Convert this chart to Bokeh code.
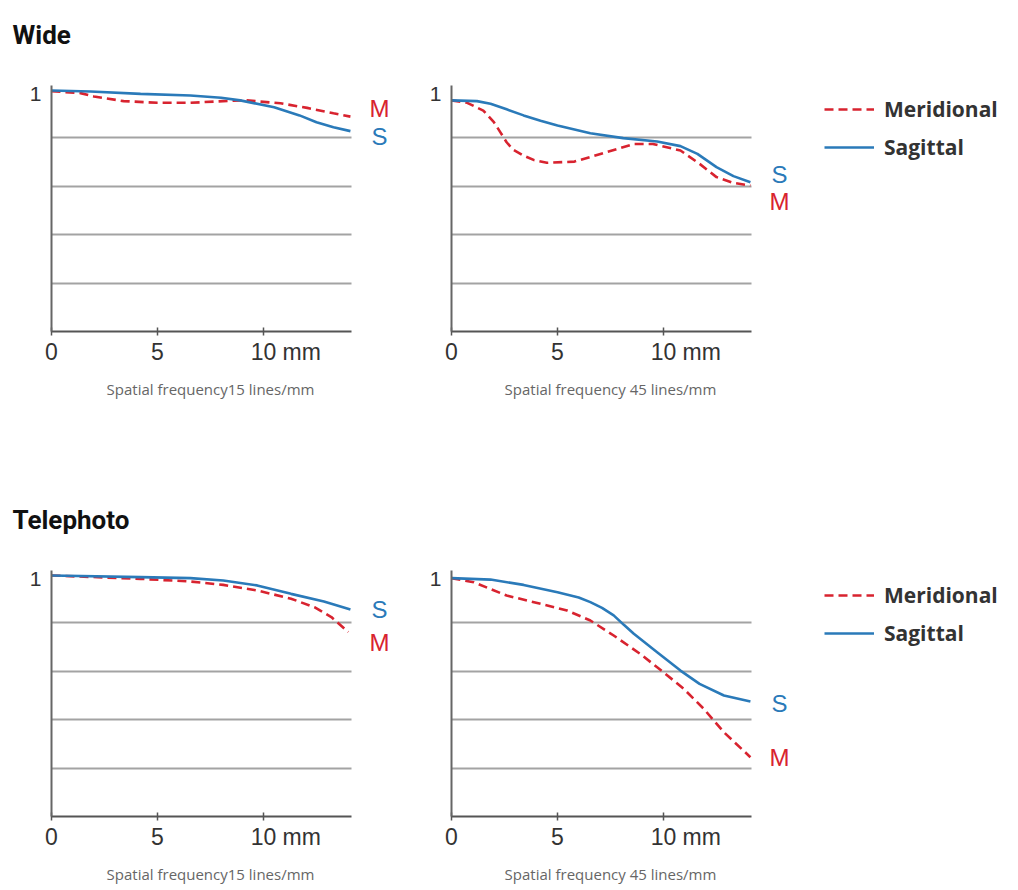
from bokeh.plotting import figure
from bokeh.models import Range1d, LinearAxis, FixedTicker, Grid, Legend, LegendItem
from bokeh.layouts import column, row
from bokeh.core.properties import value
from bokeh.embed import file_html
from bokeh.resources import INLINE

# ---------------- data ----------------
section_titles = ["Wide", "Telephoto"]
captions = ["Spatial frequency15 lines/mm", "Spatial frequency 45 lines/mm"]
x_ticks = [0, 5, 10]
x_unit = "mm"
y_top_label = "1"
grid_levels = [0.2, 0.4, 0.6, 0.8]
series_names = ["Meridional", "Sagittal"]
series_tags = ["M", "S"]
x_max = 14.15

# Wide, 15 lines/mm
wide15_m_x = [0, 1.37, 2.0, 3.4, 5.0, 6.55, 8.1, 9.2, 10.8, 12.06, 13.3, 14.1]
wide15_m_y = [0.993, 0.985, 0.971, 0.952, 0.945, 0.945, 0.952, 0.955, 0.943, 0.924, 0.902, 0.888]
wide15_s_x = [0, 1.84, 4.2, 6.55, 8.0, 8.9, 10.5, 11.7, 12.5, 13.3, 14.1]
wide15_s_y = [0.996, 0.992, 0.982, 0.975, 0.966, 0.955, 0.927, 0.893, 0.865, 0.844, 0.828]

# Wide, 45 lines/mm
wide45_m_x = [0, 0.74, 1.5, 2.0, 2.3, 2.6, 2.9, 3.4, 3.9, 4.5, 5.8, 7.3, 8.6, 9.5, 10.8, 11.7, 12.5, 13.3, 14.1]
wide45_m_y = [0.955, 0.945, 0.913, 0.865, 0.824, 0.782, 0.752, 0.727, 0.708, 0.697, 0.702, 0.741, 0.775, 0.775, 0.748, 0.693, 0.638, 0.614, 0.603]
wide45_s_x = [0, 1.2, 1.84, 2.6, 3.4, 4.2, 5.0, 6.55, 8.1, 9.7, 10.8, 11.6, 12.5, 13.3, 14.1]
wide45_s_y = [0.955, 0.952, 0.941, 0.918, 0.893, 0.871, 0.851, 0.819, 0.799, 0.785, 0.766, 0.734, 0.679, 0.642, 0.617]

# Telephoto, 15 lines/mm
tele15_m_x = [0, 4.2, 6.55, 8.1, 9.7, 11.3, 12.4, 13.2, 14.0]
tele15_m_y = [0.996, 0.982, 0.971, 0.957, 0.934, 0.900, 0.865, 0.824, 0.762]
tele15_s_x = [0, 4.2, 6.55, 8.1, 9.7, 11.3, 12.85, 14.1]
tele15_s_y = [0.996, 0.989, 0.985, 0.975, 0.955, 0.920, 0.888, 0.855]

# Telephoto, 45 lines/mm
tele45_m_x = [0, 1.05, 2.6, 4.2, 5.45, 6.55, 7.65, 8.9, 10.0, 10.95, 11.9, 12.85, 14.1]
tele45_m_y = [0.985, 0.968, 0.913, 0.879, 0.851, 0.810, 0.748, 0.672, 0.596, 0.528, 0.445, 0.348, 0.245]
tele45_s_x = [0, 1.84, 3.4, 5.0, 6.0, 6.55, 7.1, 7.65, 8.13, 8.6, 9.7, 10.8, 11.7, 12.85, 14.1]
tele45_s_y = [0.985, 0.979, 0.957, 0.927, 0.905, 0.886, 0.862, 0.831, 0.792, 0.755, 0.679, 0.603, 0.548, 0.500, 0.475]

# ---------------- styling ----------------
RED = "#d8232f"
BLUE = "#2a7ab9"
PX_MM = 21.2      # pixels per mm on the x axis
PX_UNIT = 242.0   # pixels per MTF unit
SANS = "Liberation Sans"


def chart(width, height, base_px, axis_offset, mx, my, sx, sy, tag_y, caption,
          title=None, legend_vy=None):
    x0 = -axis_offset / PX_MM
    x1 = (width - axis_offset) / PX_MM
    y0 = -(height - base_px) / PX_UNIT
    y1 = base_px / PX_UNIT
    p = figure(width=width, height=height,
               x_range=Range1d(x0, x1), y_range=Range1d(y0, y1),
               output_backend="svg", toolbar_location=None,
               x_axis_location=None, y_axis_location=None,
               min_border=0, outline_line_color=None)
    p.background_fill_color = "white"
    p.border_fill_color = "white"
    # drop default grids
    p.center = [r for r in p.center if not isinstance(r, Grid)]

    grid = Grid(dimension=1, ticker=FixedTicker(ticks=grid_levels),
                cross_bounds=(0, x_max),
                grid_line_color="#a3a3a3", grid_line_width=1.8)
    p.add_layout(grid)

    xaxis = LinearAxis(fixed_location=0, ticker=FixedTicker(ticks=x_ticks),
                       bounds=(0, x_max),
                       axis_line_color="#555555", axis_line_width=2,
                       major_tick_in=4, major_tick_out=4,
                       major_tick_line_color="#555555", major_tick_line_width=1.5,
                       minor_tick_line_color=None,
                       major_label_text_font=SANS,
                       major_label_text_font_size="23px",
                       major_label_text_color="#333333",
                       major_label_standoff=7)
    p.add_layout(xaxis, "below")

    yaxis = LinearAxis(fixed_location=0, ticker=FixedTicker(ticks=[]),
                       bounds=(0, 1.017),
                       axis_line_color="#666666", axis_line_width=2,
                       major_tick_line_color=None, minor_tick_line_color=None,
                       major_label_text_font_size="0px")
    p.add_layout(yaxis, "left")

    # "1" at the top of the y axis and unit after the 10 tick
    p.text(x=[0], y=[1.0], text=[y_top_label], x_offset=-10, y_offset=4,
           text_align="right", text_baseline="middle", text_font=value(SANS),
           text_font_size="21px", text_color="#333333")
    p.text(x=[x_ticks[-1]], y=[0], text=[x_unit], x_offset=19, y_offset=7,
           text_align="left", text_baseline="top", text_font=value(SANS),
           text_font_size="23px", text_color="#333333")

    rm = p.line(mx, my, line_color=RED, line_width=2.6, line_dash="9 5")
    rs = p.line(sx, sy, line_color=BLUE, line_width=2.6)

    # end tags M / S
    p.text(x=[15.47], y=[tag_y[0]], text=[series_tags[0]], text_align="center",
           text_baseline="middle", text_font=value(SANS), text_font_size="24px",
           text_color=RED)
    p.text(x=[15.47], y=[tag_y[1]], text=[series_tags[1]], text_align="center",
           text_baseline="middle", text_font=value(SANS), text_font_size="24px",
           text_color=BLUE)

    # caption
    p.text(x=[7.5], y=[0], text=[caption], y_offset=57, text_align="center",
           text_baseline="middle", text_font=value("Open Sans"),
           text_font_size="15px", text_color="#666666")

    if title is not None:
        p.text(x=[0], y=[1.0], text=[title], x_offset=-39, y_offset=-55,
               text_align="left", text_baseline="middle",
               text_font=value("Roboto"), text_font_style="bold",
               text_font_size="26px", text_color="#111111")

    if legend_vy is not None:
        legend = Legend(items=[LegendItem(label=series_names[0], renderers=[rm]),
                               LegendItem(label=series_names[1], renderers=[rs])],
                        location=(416, legend_vy), orientation="vertical",
                        glyph_width=50, glyph_height=28, label_height=28,
                        label_standoff=10, spacing=10, padding=0, margin=0,
                        border_line_color=None, background_fill_alpha=0,
                        label_text_font="Open Sans",
                        label_text_font_size="21px",
                        label_text_font_style="bold",
                        label_text_color="#333333")
        p.add_layout(legend)
    return p


TOP_H, TOP_BASE = 460, 331
BOT_H, BOT_BASE = 428, 356

fA = chart(408, TOP_H, TOP_BASE, 51, wide15_m_x, wide15_m_y, wide15_s_x, wide15_s_y,
           (0.9215, 0.806), captions[0], title=section_titles[0])
fB = chart(602, TOP_H, TOP_BASE, 43, wide45_m_x, wide45_m_y, wide45_s_x, wide45_s_y,
           (0.537, 0.649), captions[1], legend_vy=299)
fC = chart(408, BOT_H, BOT_BASE, 51, tele15_m_x, tele15_m_y, tele15_s_x, tele15_s_y,
           (0.719, 0.855), captions[0], title=section_titles[1])
fD = chart(602, BOT_H, BOT_BASE, 43, tele45_m_x, tele45_m_y, tele45_s_x, tele45_s_y,
           (0.244, 0.467), captions[1], legend_vy=241.5)

layout = column(row(fA, fB, spacing=0), row(fC, fD, spacing=0), spacing=0)

open("out.html", "w").write(file_html(layout, INLINE))
